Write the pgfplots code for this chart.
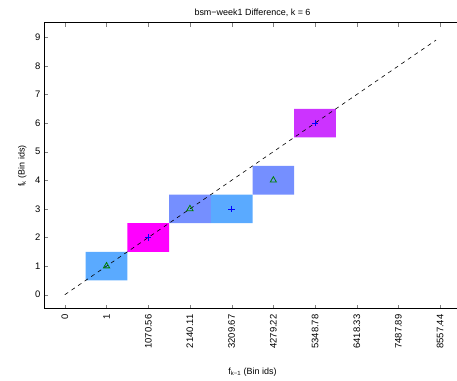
\documentclass[border=0pt]{standalone}
\usepackage{fontspec}
\setmainfont{Liberation Sans}
\usepackage{pgfplots}
\pgfplotsset{compat=1.18}
\definecolor{lb}{RGB}{90,170,255}
\definecolor{mg}{RGB}{255,0,255}
\definecolor{pw}{RGB}{117,143,255}
\definecolor{pu}{RGB}{204,51,255}
\definecolor{gr}{RGB}{0,128,0}
\begin{document}
\begin{tikzpicture}
\begin{axis}[
  scale only axis, width=417bp, height=286bp,
  xmin=-0.5, xmax=9.5, ymin=-0.5, ymax=9.5,
  xtick={0,...,9},
  xticklabels={0,1,1070.56,2140.11,3209.67,4279.22,5348.78,6418.33,7487.89,8557.44},
  xticklabel style={rotate=90, anchor=east},
  xticklabel shift=2bp,
  ytick={0,...,9},
  tick align=inside, tick pos=both,
  major tick length=4bp,
  /pgf/number format/assume math mode=true,
  tick label style={font=\fontsize{9.5}{10}\selectfont},
  label style={font=\fontsize{9}{10}\selectfont},
  title style={font=\fontsize{9}{10}\selectfont, yshift=-3bp},
  title={bsm−week1 Difference, k = 6},
  xlabel={f\textsubscript{k−1} (Bin ids)},
  ylabel={f\textsubscript{k} (Bin ids)},
  xlabel style={yshift=-12bp},
  ylabel style={yshift=2bp},
  axis line style={line width=1pt},
]
\addplot[fill=lb, draw=none] coordinates {(0.5,0.5) (1.5,0.5) (1.5,1.5) (0.5,1.5) (0.5,0.5)};
\addplot[fill=mg, draw=none] coordinates {(1.5,1.5) (2.5,1.5) (2.5,2.5) (1.5,2.5) (1.5,1.5)};
\addplot[fill=pw, draw=none] coordinates {(2.5,2.5) (3.5,2.5) (3.5,3.5) (2.5,3.5) (2.5,2.5)};
\addplot[fill=lb, draw=none] coordinates {(3.5,2.5) (4.5,2.5) (4.5,3.5) (3.5,3.5) (3.5,2.5)};
\addplot[fill=pw, draw=none] coordinates {(4.5,3.5) (5.5,3.5) (5.5,4.5) (4.5,4.5) (4.5,3.5)};
\addplot[fill=pu, draw=none] coordinates {(5.5,5.5) (6.5,5.5) (6.5,6.5) (5.5,6.5) (5.5,5.5)};
\addplot[black, dash pattern=on 4bp off 4bp, line width=0.6pt] coordinates {(0,0) (8.9,8.9)};
\addplot[only marks, mark=triangle, mark size=3.6bp, gr, line width=0.8pt] coordinates {(1,1) (3,3) (5,4)};
\addplot[only marks, mark=+, mark size=3.2bp, blue, line width=0.7pt] coordinates {(2,2) (4,3) (6,6)};
\coordinate (sw) at (rel axis cs:0,0);
\coordinate (ne) at (rel axis cs:1,1);
\end{axis}
\pgfresetboundingbox
\path[use as bounding box] ([xshift=-44bp,yshift=-72bp]sw) rectangle ([xshift=-4bp,yshift=23bp]ne);
\end{tikzpicture}
\end{document}
